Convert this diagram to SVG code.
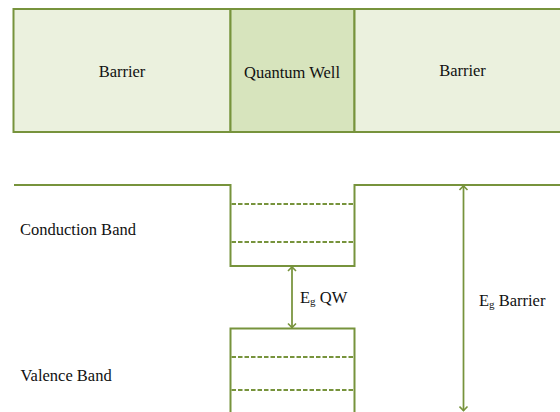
<svg xmlns="http://www.w3.org/2000/svg" width="560" height="412" viewBox="0 0 560 412">
<defs>
<style>
.t{font-family:"Liberation Serif","Times New Roman",serif;font-size:16.5px;fill:#111}
.s{font-size:11px}
.b{fill:#EBF1DE;stroke:#77933C;stroke-width:2}
.q{fill:#D7E4BD;stroke:#77933C;stroke-width:2}
.l{fill:none;stroke:#77933C;stroke-width:2}
.a{fill:none;stroke:#77933C;stroke-width:1.75}
.d{fill:none;stroke:#77933C;stroke-width:1.8;stroke-dasharray:4.5 2}
</style>
<marker id="ah" markerWidth="10" markerHeight="10" refX="8" refY="5" orient="auto-start-reverse" markerUnits="userSpaceOnUse" viewBox="0 0 10 10">
<polyline points="4,1 8,5 4,9" fill="none" stroke="#77933C" stroke-width="1.6"/>
</marker>
</defs>
<rect width="560" height="412" fill="#fff"/>
<g id="barrier-left"><rect class="b" x="13.5" y="9" width="217" height="123"/><text class="t" x="122" y="77" text-anchor="middle">Barrier</text></g>
<g id="quantum-well"><rect class="q" x="230.5" y="9" width="124" height="123"/><text class="t" x="292" y="78" text-anchor="middle">Quantum Well</text></g>
<g id="barrier-right"><rect class="b" x="354.5" y="9" width="210" height="123"/><text class="t" x="462.5" y="76" text-anchor="middle">Barrier</text></g>
<g id="conduction-band">
<polyline class="l" points="14,185 230.5,185 230.5,266 354.5,266 354.5,185 562,185"/>
<line class="d" x1="231.5" y1="204" x2="354" y2="204"/>
<line class="d" x1="231.5" y1="242" x2="354" y2="242"/>
<text class="t" x="20" y="235">Conduction Band</text>
</g>
<g id="valence-band">
<polyline class="l" points="230.5,414 230.5,328.5 354.5,328.5 354.5,414"/>
<line class="d" x1="231.5" y1="357" x2="354" y2="357"/>
<line class="d" x1="231.5" y1="390" x2="354" y2="390"/>
<text class="t" x="20.5" y="381">Valence Band</text>
</g>
<g id="connectors">
<line class="a" x1="292" y1="267" x2="292" y2="327.5" marker-start="url(#ah)" marker-end="url(#ah)"/>
<line class="a" x1="463.5" y1="186" x2="463.5" y2="410.5" marker-start="url(#ah)" marker-end="url(#ah)"/>
</g>
<g id="labels">
<text class="t" x="300" y="303">E<tspan class="s" dy="1.5">g</tspan><tspan dy="-1.5"> QW</tspan></text>
<text class="t" x="479" y="306">E<tspan class="s" dy="1.5">g</tspan><tspan dy="-1.5"> Barrier</tspan></text>
</g>
</svg>
